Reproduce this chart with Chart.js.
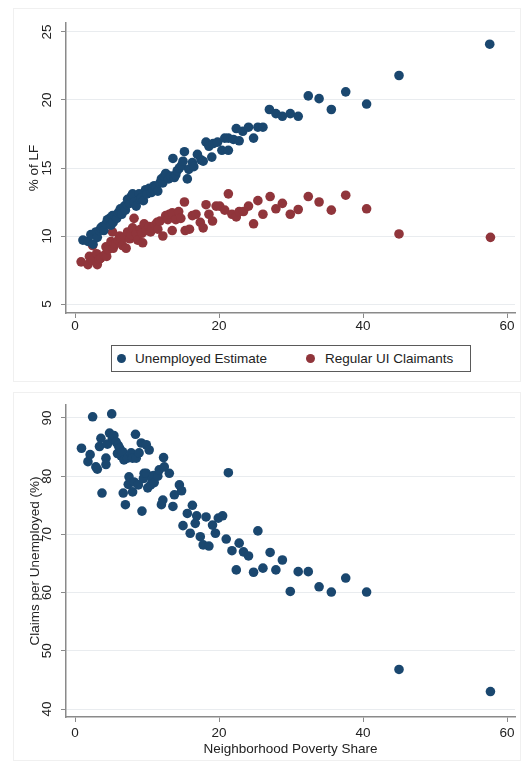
<!DOCTYPE html>
<html>
<head>
<meta charset="utf-8">
<script src="https://cdn.jsdelivr.net/npm/chart.js@4"></script>
<style>
  html, body { margin: 0; padding: 0; background: #ffffff; }
  body { width: 521px; height: 764px; position: relative; overflow: hidden; font-family: "Liberation Sans", Arial, sans-serif; }
  .frame { position: absolute; border: 1px solid #f0f0f0; box-sizing: border-box; }
  canvas { position: absolute; left: 0; }
  #legend { position: absolute; left: 111px; top: 345px; width: 360px; height: 27px; border: 1px solid #5a5a5a; box-sizing: border-box; }
  .lg-dot { position: absolute; width: 9px; height: 9px; border-radius: 50%; top: 8px; }
  .lg-txt { position: absolute; top: 0; line-height: 25px; font-size: 13.5px; color: #222; white-space: nowrap; }
</style>
</head>
<body>
<div class="frame" style="left:13px; top:8px; width:508px; height:374px;"></div>
<div class="frame" style="left:13px; top:392px; width:508px; height:369px;"></div>
<canvas id="top" width="521" height="345" style="top:0px;"></canvas>
<canvas id="bottom" width="521" height="379" style="top:385px;"></canvas>
<div id="legend"></div>
<script>
// ---------- DATA ----------
const xTicks = [0, 20, 40, 60];
const yTicksTop = [5, 10, 15, 20, 25];
const yTicksBottom = [40, 50, 60, 70, 80, 90];

const seriesNames = ["Unemployed Estimate", "Regular UI Claimants"];

const unempX = [1.1,1.8,2.2,2.5,2.9,3.1,3.4,3.6,3.8,4.0,4.3,4.5,4.8,5.0,5.2,5.3,5.5,5.8,6.0,6.2,6.3,6.5,6.85,7.0,7.2,7.3,7.6,7.8,8.0,8.2,8.5,8.9,9.0,9.2,9.5,9.8,10.0,10.3,10.6,10.8,11.0,11.25,11.5,11.8,12.0,12.2,12.4,12.6,13.0,13.3,13.6,13.8,14.0,14.2,14.5,14.8,15.0,15.2,15.6,15.8,16.3,16.5,17.0,17.5,17.8,18.2,18.6,19.0,19.2,19.8,20.4,20.8,21.3,21.3,22.0,22.4,22.8,23.3,24.1,24.8,25.4,26.1,27.0,27.9,28.8,29.9,31.0,32.4,33.9,35.6,37.6,40.5,45.0,57.6];
const unempY = [9.7,9.6,10.1,9.4,10.3,9.9,10.4,10.6,10.7,10.4,10.9,11.2,11.3,10.8,11.5,11.0,11.5,11.3,11.7,11.8,12.0,11.6,12.2,11.9,12.3,12.7,12.4,12.9,13.1,12.5,12.2,13.1,12.7,12.8,12.6,13.4,13.1,13.5,13.2,13.4,13.7,13.6,13.3,13.9,14.2,13.9,14.4,14.6,14.2,14.4,15.7,14.3,14.5,14.8,15.0,15.2,15.5,16.2,14.2,14.9,15.4,15.1,16.0,15.6,15.5,16.9,16.6,15.8,16.8,16.9,16.3,17.2,16.3,17.2,17.1,17.9,17.0,17.7,18.0,17.2,18.0,18.0,19.3,19.0,18.8,19.0,18.8,20.3,20.1,19.3,20.6,19.7,21.8,24.1];

const claimsX = [0.85,1.8,2.0,2.4,2.45,3.0,3.1,3.4,3.6,4.1,4.3,4.4,4.6,5.0,5.2,5.3,5.5,5.7,6.0,6.2,6.4,6.6,6.9,7.1,7.3,7.6,7.8,8.0,8.2,8.5,8.7,9.1,9.3,9.4,9.6,9.9,10.3,10.5,10.7,11.1,11.4,11.5,11.8,12.2,12.6,12.9,13.1,13.5,13.5,14.0,14.4,14.7,15.2,15.3,15.9,16.3,16.8,17.4,17.8,18.2,18.6,19.1,19.6,20.1,20.8,21.3,21.8,22.4,22.8,23.4,24.1,24.8,25.4,26.1,27.1,27.9,28.8,29.9,31.0,32.4,33.9,35.6,37.6,40.5,45.0,57.7];
const claimsY = [8.1,7.9,8.5,8.2,9.3,8.7,7.9,8.3,8.4,8.6,9.2,8.5,9.0,9.6,10.3,9.1,9.4,9.5,9.7,10.0,9.8,9.3,9.9,9.1,10.3,9.8,10.1,10.6,11.3,10.2,9.7,10.5,10.2,9.5,10.9,10.4,10.7,10.3,10.6,10.8,11.0,10.5,11.1,10.0,11.5,11.2,11.6,10.4,11.7,11.2,11.8,11.3,12.5,10.4,10.5,11.5,11.6,11.0,10.6,12.3,11.6,11.1,12.2,12.2,11.9,13.1,11.6,11.4,11.8,11.8,12.2,10.9,12.6,11.6,12.9,12.0,12.4,11.6,11.95,12.9,12.5,11.9,13.0,12.0,10.15,9.9];

const ratioX = [0.9,1.8,2.1,2.45,2.9,3.1,3.4,3.6,3.75,4.3,4.3,4.5,4.8,5.1,5.2,5.4,5.7,5.9,6.0,6.2,6.4,6.6,6.7,6.8,7.0,7.3,7.4,7.5,7.8,8.0,8.0,8.2,8.4,8.5,8.8,8.9,9.2,9.3,9.5,9.6,9.9,9.9,10.1,10.3,10.5,10.7,10.9,11.0,11.5,11.7,12.0,12.2,12.3,12.4,13.1,13.6,13.8,14.5,14.8,15.0,15.6,16.0,16.3,16.7,16.9,17.4,17.8,18.2,18.6,19.1,19.5,19.9,20.5,21.0,21.3,21.8,22.4,22.8,23.4,24.1,24.8,25.4,26.1,27.1,27.9,28.8,29.9,31.0,32.4,33.9,35.6,37.6,40.5,45.0,57.7];
const ratioY = [84.8,82.5,83.7,90.2,81.6,81.2,85.1,86.5,77.1,83.1,82.0,85.5,87.4,90.7,86.5,87.0,85.9,83.9,85.3,84.8,83.5,84.2,77.1,82.8,75.1,83.1,78.6,79.9,84.0,83.1,77.3,79.0,87.2,83.1,78.5,84.0,85.7,74.0,79.6,80.5,85.4,80.5,78.0,84.5,78.5,79.5,80.1,78.9,80.0,81.1,75.1,75.9,83.2,81.6,80.5,74.8,76.8,78.5,77.5,71.5,73.6,70.2,75.0,71.9,73.2,69.6,68.2,73.0,68.0,71.6,70.2,72.8,73.2,69.2,80.6,67.2,63.9,68.5,67.0,66.3,63.5,70.6,64.2,66.9,63.9,65.6,60.2,63.6,63.6,61.0,60.1,62.5,60.1,46.8,43.0];

// ---------- STYLE ----------
const NAVY = "#1a476f";
const MAROON = "#90353b";
const FONT = "'Liberation Sans', Arial, sans-serif";
const TXT = "#222222";
const AXIS = "#8a8a8a";
const GRID = "#e9ecef";

function pts(xs, ys) { return xs.map((x, i) => ({ x: x, y: ys[i] })); }

function makeScales(opt) {
  return {
    x: {
      type: "linear",
      min: -1.25, max: 61.11,
      afterBuildTicks: s => { s.ticks = xTicks.map(v => ({ value: v })); },
      afterFit: s => { s.height = opt.xHeight; },
      grid: { drawOnChartArea: false, drawTicks: true, tickLength: 5, tickColor: AXIS, tickWidth: 1 },
      border: { display: true, color: AXIS, width: 1.5 },
      ticks: { color: TXT, font: { family: FONT, size: 13.5 }, padding: opt.xPad, maxRotation: 0, minRotation: 0 },
      title: opt.xTitle ? { display: true, text: opt.xTitle, color: TXT, font: { family: FONT, size: 13.5 }, padding: { top: 0, bottom: opt.xTitlePad } } : { display: false }
    },
    y: {
      type: "linear",
      min: opt.yMin, max: opt.yMax,
      afterBuildTicks: s => { s.ticks = opt.yTicks.map(v => ({ value: v })); },
      afterFit: s => { s.width = 66; },
      grid: { drawOnChartArea: true, color: GRID, lineWidth: 1, drawTicks: true, tickLength: 5, tickColor: AXIS, tickWidth: 1 },
      border: { display: true, color: AXIS, width: 1.5 },
      ticks: { color: TXT, font: { family: FONT, size: 13.5 }, padding: 6.5, minRotation: 90, maxRotation: 90, crossAlign: "center" },
      title: { display: true, text: opt.yTitle, color: TXT, font: { family: FONT, size: 13.5 }, padding: { top: opt.yTitlePad, bottom: 0 } }
    }
  };
}

const common = {
  responsive: false,
  animation: false,
  events: [],
  plugins: { legend: { display: false }, tooltip: { enabled: false } },
  elements: { point: { radius: 4.8, borderWidth: 0, pointStyle: "circle" } }
};

const topChart = new Chart(document.getElementById("top"), {
  type: "scatter",
  data: {
    datasets: [
      { label: seriesNames[0], data: pts(unempX, unempY), backgroundColor: NAVY, borderColor: NAVY },
      { label: seriesNames[1], data: pts(claimsX, claimsY), backgroundColor: MAROON, borderColor: MAROON }
    ]
  },
  options: Object.assign({}, common, {
    layout: { padding: { top: 23, right: 6, left: 0, bottom: 0 } },
    scales: makeScales({ yMin: 4.34, yMax: 25.66, yTicks: yTicksTop, yTitle: "% of LF", yTitlePad: 26, xHeight: 32, xPad: 0 })
  })
});

new Chart(document.getElementById("bottom"), {
  type: "scatter",
  data: {
    datasets: [
      { label: "Claims per Unemployed (%)", data: pts(ratioX, ratioY), backgroundColor: NAVY, borderColor: NAVY }
    ]
  },
  options: Object.assign({}, common, {
    layout: { padding: { top: 20, right: 6, left: 0, bottom: 0 } },
    scales: makeScales({ yMin: 38.63, yMax: 92.23, yTicks: yTicksBottom, yTitle: "Claims per Unemployed (%)", yTitlePad: 27, xHeight: 47, xPad: 3, xTitle: "Neighborhood Poverty Share", xTitlePad: 7 })
  })
});

// HTML legend built from the top chart datasets
const lg = document.getElementById("legend");
const dotLeft = [4.5, 193.5];
const txtLeft = [23, 213];
topChart.data.datasets.forEach((ds, i) => {
  const d = document.createElement("span");
  d.className = "lg-dot";
  d.style.left = dotLeft[i] + "px";
  d.style.background = ds.backgroundColor;
  lg.appendChild(d);
  const t = document.createElement("span");
  t.className = "lg-txt";
  t.style.left = txtLeft[i] + "px";
  t.textContent = ds.label;
  lg.appendChild(t);
});
</script>
</body>
</html>
